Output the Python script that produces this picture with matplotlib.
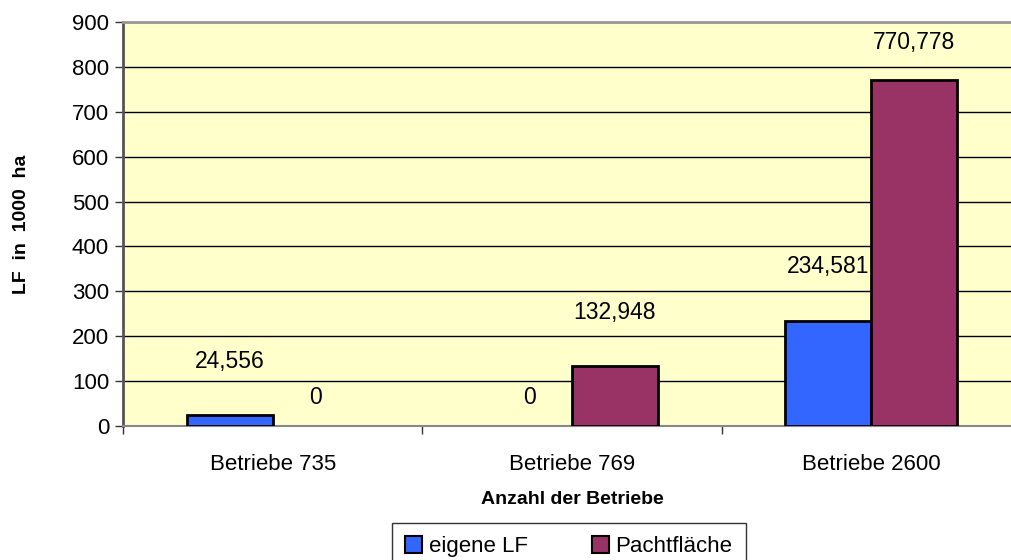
import matplotlib
matplotlib.use('Agg')
import matplotlib.pyplot as plt
import numpy as np
from matplotlib.patches import Patch

plt.rcParams['font.family'] = ['Liberation Sans', 'DejaVu Sans']

# Daten aus dem Diagramm
kategorien = ['Betriebe 735', 'Betriebe 769', 'Betriebe 2600']
eigene_lf = [24.556, 0, 234.581]
pachtflaeche = [0, 132.948, 770.778]
serien_namen = ['eigene LF', 'Pachtfläche']

farbe_blau = '#3366FF'
farbe_rot = '#993366'
hintergrund = '#FFFFCC'

W, H = 1011, 560
fig = plt.figure(figsize=(W / 100, H / 100), dpi=100)
# Plotbereich in Pixeln: links 123, rechts ~1021 (abgeschnitten), oben 22, unten 426
ax = fig.add_axes([123 / W, 1 - 426 / H, (1021 - 123) / W, (426 - 22) / H])
ax.set_facecolor(hintergrund)

x = np.arange(len(kategorien))
breite = 0.287
for serie, farbe, versatz in [(eigene_lf, farbe_blau, -breite / 2), (pachtflaeche, farbe_rot, breite / 2)]:
    # Balken mit Wert 0 ohne Rand, damit keine Linie auf der Achse liegt
    raender = ['black' if v > 0 else 'none' for v in serie]
    ax.bar(x + versatz, serie, breite, color=farbe, edgecolor=raender, linewidth=2, zorder=3)

# Beschriftungen über den Balken (Komma als Dezimaltrennzeichen)
def fmt(v):
    return ('%g' % v).replace('.', ',')

for serie, versatz in [(eigene_lf, -breite / 2), (pachtflaeche, breite / 2)]:
    for i, v in enumerate(serie):
        y = min(v + 120, 855) if v > 0 else 64
        ax.text(x[i] + versatz, y, fmt(v), ha='center', va='center', fontsize=16.5, zorder=4)

ax.set_xlim(-0.5, 2.5)
ax.set_ylim(0, 900)
ax.set_yticks(np.arange(0, 901, 100))
ax.set_xticks(x)
ax.set_xticklabels(kategorien)
ax.set_xticks([-0.5, 0.5, 1.5, 2.5], minor=True)
ax.tick_params(axis='x', which='major', length=0, pad=20, labelsize=16)
ax.tick_params(axis='x', which='minor', length=6, width=1, color='#333333')
ax.tick_params(axis='y', length=6, width=1, color='#333333', labelsize=16, pad=4)
ax.yaxis.grid(True, color='black', linewidth=1, zorder=0)
ax.set_axisbelow(True)

ax.spines['right'].set_visible(False)
ax.spines['left'].set_color('#555555')
ax.spines['left'].set_linewidth(2)
ax.spines['top'].set_color('#999999')
ax.spines['top'].set_linewidth(2)
ax.spines['bottom'].set_color('#888888')
ax.spines['bottom'].set_linewidth(1.5)

ax.set_xlabel('Anzahl der Betriebe', fontsize=14, fontweight='bold', labelpad=12)
ax.set_ylabel('LF  in  1000  ha', fontsize=14, fontweight='bold', labelpad=30)

handles = [Patch(facecolor=farbe_blau, edgecolor='black', linewidth=1.5),
           Patch(facecolor=farbe_rot, edgecolor='black', linewidth=1.5)]
leg = fig.legend(handles, serien_namen, loc='upper center', bbox_to_anchor=(569 / W, 1 - 523 / H),
                 ncol=2, fontsize=16, frameon=True, fancybox=False, edgecolor='black',
                 handlelength=0.75, handleheight=0.75, handletextpad=0.3, columnspacing=2.9,
                 borderpad=0.6, borderaxespad=0)
leg.get_frame().set_linewidth(1)

fig.savefig('out.png', dpi=100)
